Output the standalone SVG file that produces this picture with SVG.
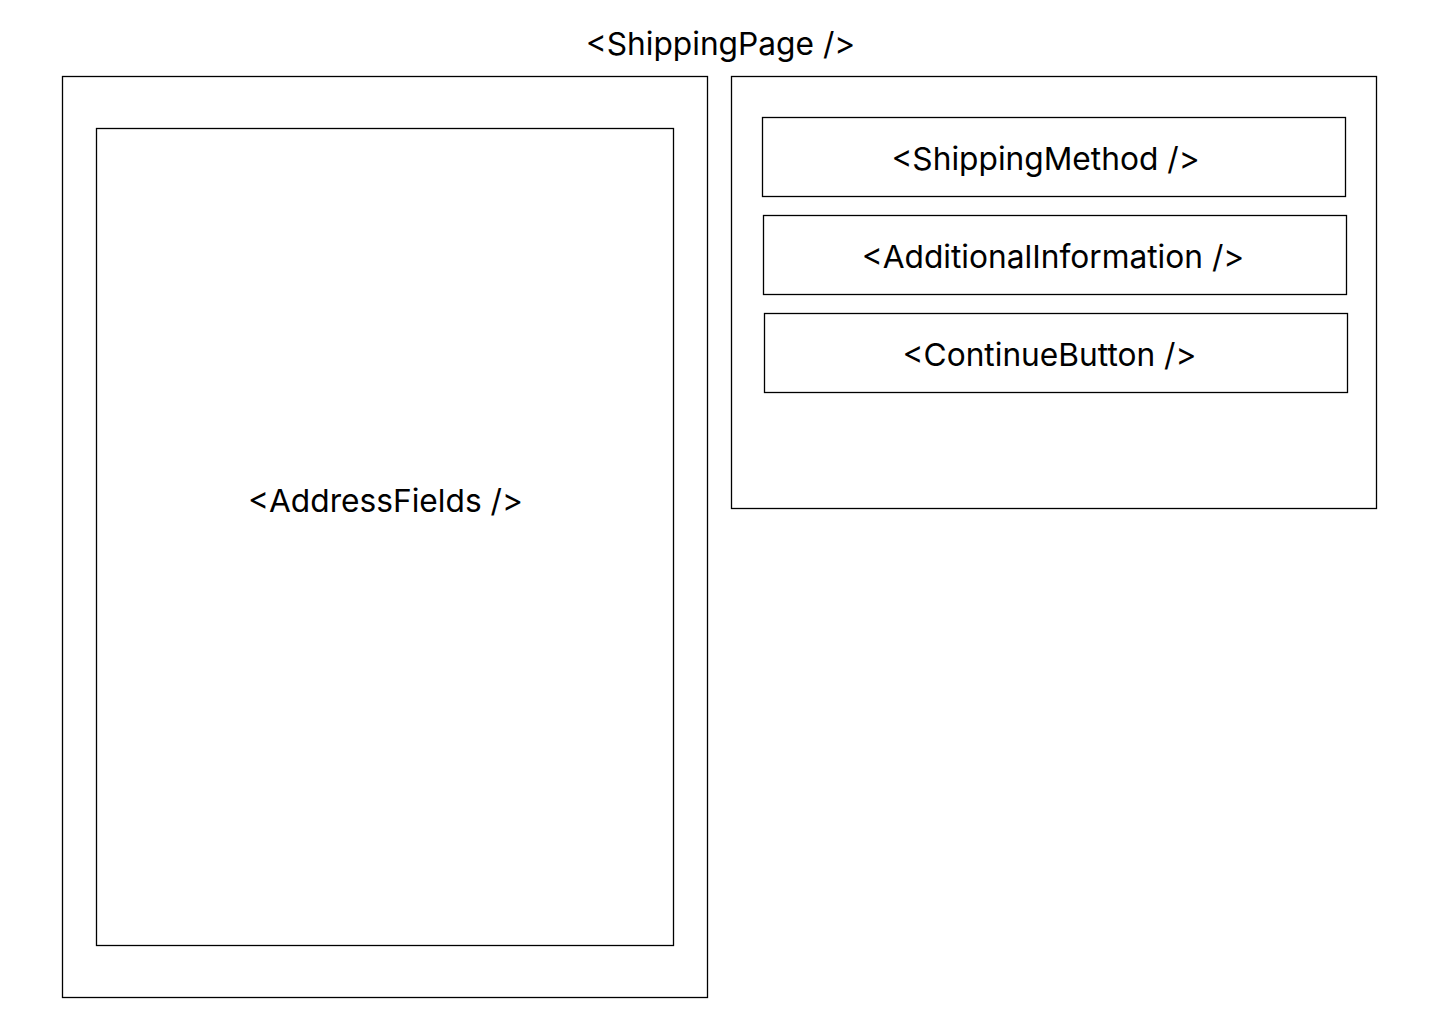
<svg xmlns="http://www.w3.org/2000/svg" width="1440" height="1024" viewBox="0 0 1440 1024">
<style>
.box{fill:#fff;stroke:#000;stroke-width:1.3}
.lbl{font-family:Inter,"Noto Sans",sans-serif;font-size:31.7px;fill:#000;text-anchor:middle}
</style>
<rect width="1440" height="1024" fill="#fff"/>
<g id="ShippingPage">
<text class="lbl" x="720.5" y="54.5">&lt;ShippingPage /&gt;</text>
</g>
<g id="LeftColumn">
<rect class="box" x="62.5" y="76.5" width="645" height="921"/>
</g>
<g id="AddressFields">
<rect class="box" x="96.5" y="128.5" width="577" height="817"/>
<text class="lbl" x="385.5" y="511.5">&lt;AddressFields /&gt;</text>
</g>
<g id="RightColumn">
<rect class="box" x="731.5" y="76.5" width="645" height="432"/>
</g>
<g id="ShippingMethod">
<rect class="box" x="762.5" y="117.5" width="583" height="79"/>
<text class="lbl" x="1045.5" y="169.5">&lt;ShippingMethod /&gt;</text>
</g>
<g id="AdditionalInformation">
<rect class="box" x="763.5" y="215.5" width="583" height="79"/>
<text class="lbl" x="1053" y="267.5">&lt;AdditionalInformation /&gt;</text>
</g>
<g id="ContinueButton">
<rect class="box" x="764.5" y="313.5" width="583" height="79"/>
<text class="lbl" x="1049.5" y="365.5">&lt;ContinueButton /&gt;</text>
</g>
<g id="connectors"></g>
</svg>
